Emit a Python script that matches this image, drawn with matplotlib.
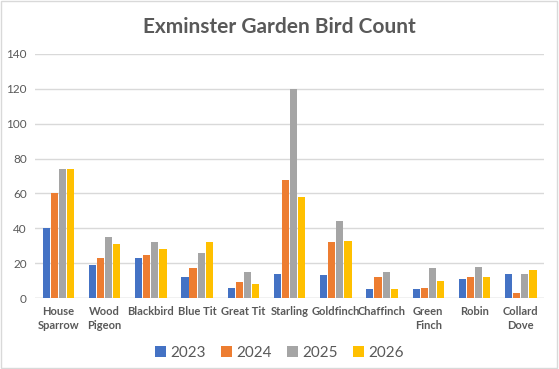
import numpy as np
import matplotlib.pyplot as plt

birds = ['House\nSparrow', 'Wood\nPigeon', 'Blackbird', 'Blue Tit', 'Great Tit', 'Starling',
         'Goldfinch', 'Chaffinch', 'Green\nFinch', 'Robin', 'Collard\nDove']
years = ['2023', '2024', '2025', '2026']
count_2023 = [40, 19, 23, 12, 6, 14, 13, 5, 5, 11, 14]
count_2024 = [60, 23, 25, 17, 9, 68, 32, 12, 6, 12, 3]
count_2025 = [74, 35, 32, 26, 15, 120, 44, 15, 17, 18, 14]
count_2026 = [74, 31, 28, 32, 8, 58, 33, 5, 10, 12, 16]

colors = ['#4472C4', '#ED7D31', '#A5A5A5', '#FFC000']
grey = '#595959'
plt.rcParams['font.family'] = ['Lato', 'DejaVu Sans']

fig = plt.figure(figsize=(5.59, 3.69), dpi=100)
ax = fig.add_axes([0.063, 0.192, 0.91, 0.662])

x = np.arange(len(birds))
step = 0.175
for i, (vals, yr) in enumerate(zip([count_2023, count_2024, count_2025, count_2026], years)):
    ax.bar(x + (i - 1.5) * step, vals, width=0.155, color=colors[i], label=yr, zorder=3)

ax.set_ylim(0, 140)
ax.set_yticks(range(0, 141, 20))
ax.set_xlim(-0.5, len(birds) - 0.5)
ax.set_xticks(x)
ax.set_xticklabels(birds, fontsize=8, color=grey, fontweight='bold', linespacing=1.25)
ax.tick_params(axis='y', labelsize=8.5, colors=grey, length=0, pad=6)
ax.tick_params(axis='x', length=0, pad=6)
ax.grid(axis='y', color='#D9D9D9', linewidth=1, zorder=0)
for s in ax.spines.values():
    s.set_visible(False)
ax.axhline(0, color='#D9D9D9', linewidth=1, zorder=1)

fig.suptitle('Exminster Garden Bird Count', fontsize=15, fontweight='bold', color=grey, y=0.955)
fig.legend(loc='lower center', ncol=4, frameon=False, fontsize=11, bbox_to_anchor=(0.5, -0.012),
           handlelength=0.7, handleheight=0.7, handletextpad=0.3, columnspacing=1.0,
           labelcolor=grey)
fig.patches.append(plt.Rectangle((0.002, 0.003), 0.995, 0.994, transform=fig.transFigure,
                                 fill=False, edgecolor='#D9D9D9', linewidth=1))

fig.savefig('out.png', dpi=100)
